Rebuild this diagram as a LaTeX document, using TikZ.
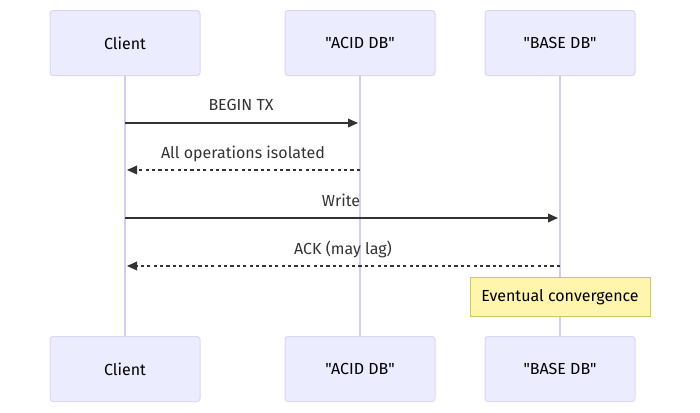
\documentclass[tikz,border=0pt]{standalone}
\usepackage{fontspec}
\setmainfont{Fira Sans}[Ligatures=TeXOff]
\usetikzlibrary{arrows.meta, positioning}
\definecolor{actfill}{HTML}{ECECFF}
\definecolor{actline}{HTML}{DCD6F7}
\definecolor{lifeline}{HTML}{D5CCF2}
\definecolor{msgline}{HTML}{333333}
\definecolor{notefill}{HTML}{FFF5AD}
\definecolor{noteline}{HTML}{C8C864}

\begin{document}
\begin{tikzpicture}[
    x=0.75pt, y=-0.75pt,
    every node/.style={font=\fontsize{12}{14}\selectfont},
    actor/.style={draw=actline, fill=actfill, line width=0.75pt,
                  rounded corners=2.25pt, minimum width=112.5pt,
                  minimum height=48.75pt, inner sep=0pt, text=black},
    life/.style={draw=lifeline, line width=1pt},
    msg/.style={draw=msgline, line width=1.1pt,
                -{Triangle[length=7.5pt, width=6.5pt]}},
    reply/.style={msg, dash pattern=on 2.4pt off 2.4pt},
    msglab/.style={text=msgline, anchor=base},
    note/.style={draw=noteline, fill=notefill, line width=0.75pt,
                 minimum width=135pt, minimum height=29.25pt,
                 inner sep=0pt, text=black},
]
\useasboundingbox (0,0) rectangle (700,412);

% ---------------------------------------------------------------- actors
\node[actor] (clientTop) at (125,43) {Client};
\node[actor] (acidTop)   at (360,43) {"ACID DB"};
\node[actor] (baseTop)   at (560,43) {"BASE DB"};
\node[actor] (clientBot) at (125,369) {Client};
\node[actor] (acidBot)   at (360,369) {"ACID DB"};
\node[actor] (baseBot)   at (560,369) {"BASE DB"};

% ---------------------------------------------------------------- lifelines
\draw[life] (clientTop) -- (clientBot);
\draw[life] (acidTop) -- (acidBot);
\draw[life] (baseTop) -- (baseBot);

% ---------------------------------------------------------------- messages
\coordinate (c1) at (125,123);  \coordinate (a1) at (358,123);
\coordinate (a2) at (360,170);  \coordinate (c2) at (127,170);
\coordinate (c3) at (125,218);  \coordinate (b3) at (558,218);
\coordinate (b4) at (560,266);  \coordinate (c4) at (127,266);

\draw[msg]   (c1) -- (a1);
\draw[reply] (a2) -- (c2);
\draw[msg]   (c3) -- (b3);
\draw[reply] (b4) -- (c4);

\node[msglab] (l1) at (241,110) {BEGIN TX};
\node[msglab] (l2) at (243,158) {All operations isolated};
\node[msglab] (l3) at (341,206) {Write};
\node[msglab] (l4) at (343,254) {ACK (may lag)};

% ---------------------------------------------------------------- note
\node[note] (conv) at (560,297) {Eventual convergence};

\end{tikzpicture}
\end{document}
